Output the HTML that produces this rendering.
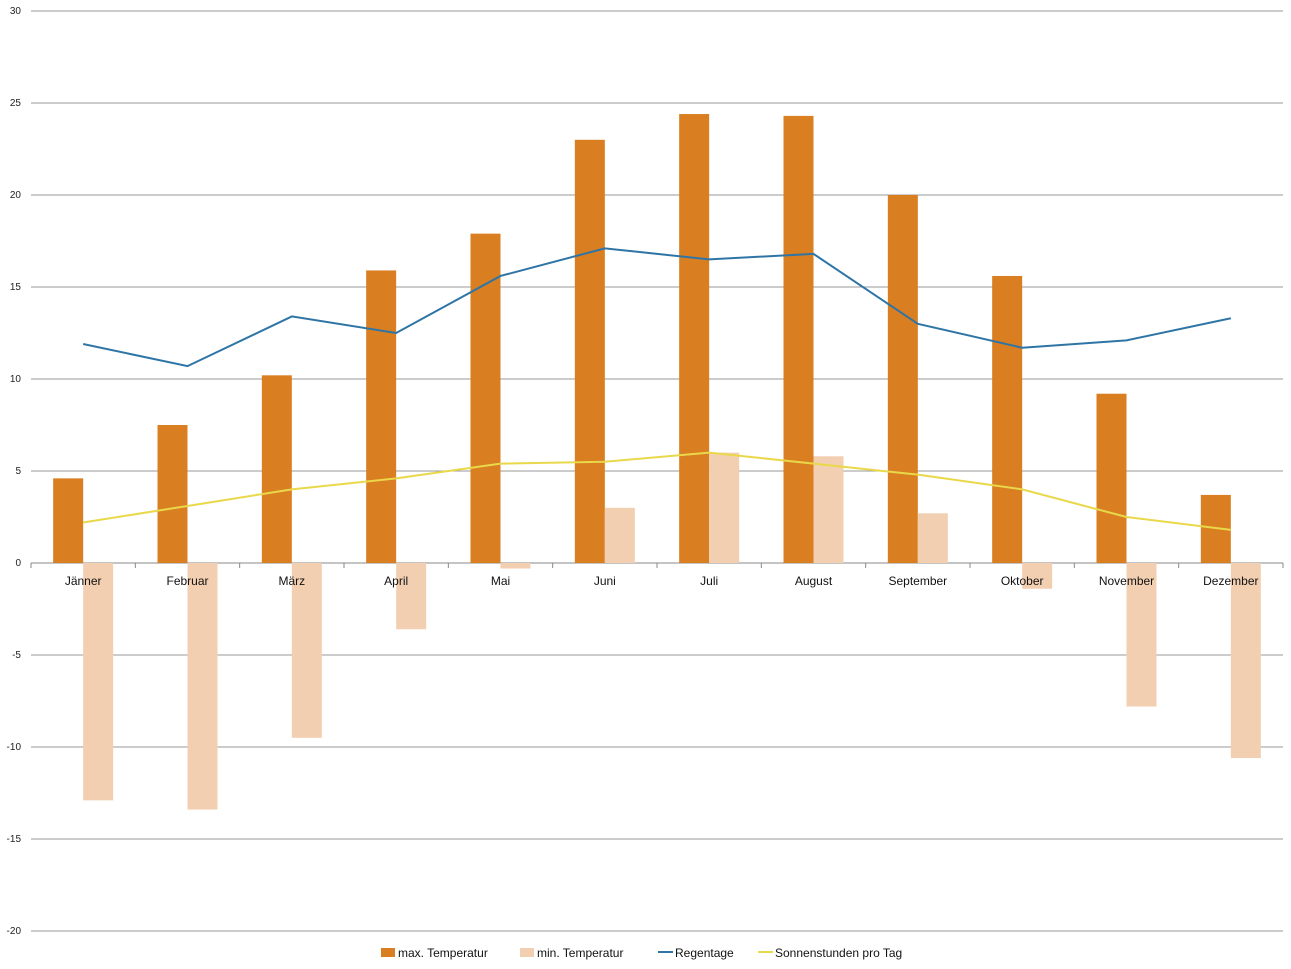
<!DOCTYPE html>
<html><head><meta charset="utf-8"><style>
body{margin:0;background:#fff;font-family:"Liberation Sans",sans-serif}
svg{display:block}
</style></head><body>
<svg id="c" width="1291" height="969"></svg>
<script>
const categories=["Jänner","Februar","März","April","Mai","Juni","Juli","August","September","Oktober","November","Dezember"];
const maxTemp=[4.6,7.5,10.2,15.9,17.9,23.0,24.4,24.3,20.0,15.6,9.2,3.7];
const minTemp=[-12.9,-13.4,-9.5,-3.6,-0.3,3.0,6.0,5.8,2.7,-1.4,-7.8,-10.6];
const rainDays=[11.9,10.7,13.4,12.5,15.6,17.1,16.5,16.8,13.0,11.7,12.1,13.3];
const sunHours=[2.2,3.1,4.0,4.6,5.4,5.5,6.0,5.4,4.8,4.0,2.5,1.8];
const yTicks=[30,25,20,15,10,5,0,-5,-10,-15,-20];
const NS="http://www.w3.org/2000/svg";
const svg=document.getElementById('c');
const L=31,R=1283,T=11,B=931,yMax=30,yMin=-20;
const bw=(R-L)/categories.length;
const y=v=>T+(yMax-v)/(yMax-yMin)*(B-T);
const xc=i=>L+bw*(i+0.5);
function mk(tag,attrs){const e=document.createElementNS(NS,tag);for(const k in attrs)e.setAttribute(k,attrs[k]);svg.appendChild(e);return e;}
yTicks.forEach(t=>{
  const g=mk('line',{x1:L,x2:R,y1:y(t),y2:y(t),stroke:t===0?'#888':'#999','stroke-width':1});
  
  
  const tx=mk('text',{x:21,y:y(t)+3,'text-anchor':'end','font-size':10,fill:'#222'});
  tx.textContent=t;
  
  
});
for(let i=0;i<=categories.length;i++){
  const tk=mk('line',{x1:L+bw*i,x2:L+bw*i,y1:y(0),y2:y(0)+5,stroke:'#888'});
  
  
}
const barW=30;
categories.forEach((c,i)=>{
  const a=maxTemp[i];
  const r1=mk('rect',{x:xc(i)-barW,y:Math.min(y(a),y(0)),width:barW,height:Math.abs(y(a)-y(0)),fill:'#D97E21'});
  
  
  const b=minTemp[i];
  const r2=mk('rect',{x:xc(i),y:Math.min(y(b),y(0)),width:barW,height:Math.abs(y(b)-y(0)),fill:'#F3CFB1'});
  
  
});
function line(arr,color,name){
  const p=mk('polyline',{points:arr.map((v,i)=>xc(i)+','+y(v)).join(' '),fill:'none',stroke:color,'stroke-width':2});
  
  
}
line(rainDays,'#2E75A6','line-regentage');
line(sunHours,'#E8D84A','line-sonnenstunden');
categories.forEach((c,i)=>{
  const t=mk('text',{x:xc(i),y:y(0)+22,'text-anchor':'middle','font-size':12,fill:'#111'});
  t.textContent=c;
  
  
});
const leg=[['max. Temperatur','#D97E21','box',381],['min. Temperatur','#F3CFB1','box',520],['Regentage','#2E75A6','line',658],['Sonnenstunden pro Tag','#E8D84A','line',758]];
leg.forEach(([n,c,k,x])=>{
  let s;
  if(k==='box') s=mk('rect',{x:x,y:948,width:14,height:9,fill:c});
  else s=mk('line',{x1:x,x2:x+15,y1:952,y2:952,stroke:c,'stroke-width':2});
  
  
  const t=mk('text',{x:x+17,y:957,'font-size':12,fill:'#111'});
  t.textContent=n;
  
  
});
</script>
</body></html>
